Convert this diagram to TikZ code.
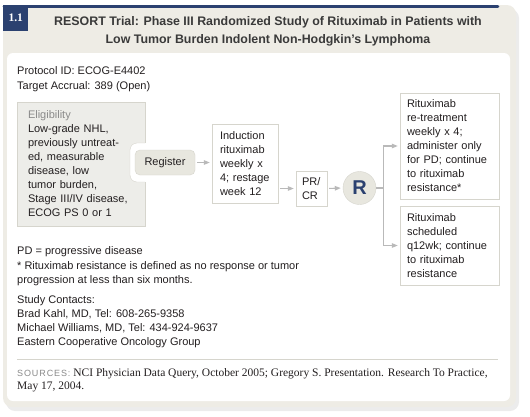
\documentclass[tikz,border=0pt]{standalone}
\usepackage{fontspec}
\setmainfont{Liberation Sans}
\newfontfamily\srcserif{Liberation Serif}
\newfontfamily\srcsans[LetterSpace=10]{Liberation Sans}
\usepackage{tikz}
\usetikzlibrary{arrows.meta,positioning,calc,shadows}
\definecolor{navy}{HTML}{2B4170}
\definecolor{panel}{HTML}{EEECE5}
\definecolor{boxline}{HTML}{D6D5CD}
\definecolor{eligfill}{HTML}{EDEDE9}
\definecolor{regfill}{HTML}{E8E7DF}
\definecolor{arrowgray}{HTML}{B9B9B9}
\definecolor{ink}{HTML}{231F20}
\definecolor{titleink}{HTML}{3A3A3A}
\definecolor{labelgray}{HTML}{8A8A8A}

\begin{document}
\begin{tikzpicture}[x=1pt, y=-1pt,
  txt/.style={font=\fontsize{11}{14}\selectfont, text=ink, align=left, inner sep=0pt},
  box/.style={draw=boxline, fill=white, txt, inner xsep=7pt, inner ysep=0pt},
  arrow/.style={-{Triangle[length=6pt, width=4.5pt]}, draw=arrowgray, line width=1.1pt, shorten >=2pt, shorten <=2pt}
]
\useasboundingbox (0,0) rectangle (530,416);

% panel
\path[fill=panel, rounded corners=9, drop shadow={opacity=0.15, shadow xshift=3pt, shadow yshift=-4pt}] (3,5) rectangle (516,407);
\draw[navy, line width=2.6pt, line cap=round] (4,6.3) -- (498,6.3);
\fill[white, rounded corners=6] (7,53) rectangle (510,401);

\node[fill=navy, text=white, font=\srcserif\bfseries\fontsize{11.5}{12}\selectfont, minimum width=25, minimum height=26, anchor=north west, inner sep=0pt] (num) at (3,5) {1.1};
\node[font=\bfseries\fontsize{12.4}{18}\selectfont, text=titleink, align=center] (title) at (268,31) {RESORT Trial: Phase III Randomized Study of Rituximab in Patients with\\Low Tumor Burden Indolent Non-Hodgkin's Lymphoma};

\node[txt, font=\fontsize{11}{15}\selectfont, anchor=west] (protocol) at (17,79.5) {Protocol ID: ECOG-E4402\\Target Accrual: 389 (Open)};

% flow
\node[box, fill=eligfill, inner xsep=11pt, text width=106, minimum height=124] (elig) at (81,164) {\textcolor{labelgray}{Eligibility}\\Low-grade NHL,\\previously untreat-\\ed, measurable\\disease, low\\tumor burden,\\Stage III/IV disease,\\ECOG PS 0 or 1};
\fill[white, rounded corners=7] (130,143) rectangle (152,182);
\draw[boxline, rounded corners=7] (elig.east |- 0,143) -- (130,143) -- (130,182) -- (elig.east |- 0,182);

\node[box, fill=regfill, rounded corners=5, minimum width=60, minimum height=25, align=center] (register) at (165,162.5) {Register};
\node[box, inner xsep=8pt, text width=50, minimum height=79] (induction) at (245,163.5) {Induction\\rituximab\\weekly x\\4; restage\\week 12};
\node[box, inner xsep=6pt, text width=19, minimum height=35] (prcr) at (311.5,188.5) {PR/\\CR};
\node[circle, draw=boxline, fill=regfill, minimum size=33, inner sep=0pt, font=\bfseries\fontsize{20}{20}\selectfont, text=navy] (rand) at (359.5,188) {R};
\node[box, text width=85, minimum height=106] (retreat) at (449.5,146) {Rituximab\\re-treatment\\weekly x 4;\\administer only\\for PD; continue\\to rituximab\\resistance*};
\node[box, text width=85, minimum height=79] (sched) at (449.5,245.5) {Rituximab\\scheduled\\q12wk; continue\\to rituximab\\resistance};

\draw[arrow] (register.east) -- (register.east -| induction.west);
\draw[arrow] (induction.east |- prcr.west) -- (prcr.west);
\draw[arrow] (prcr.east) -- (rand.west);
\draw[draw=arrowgray, line width=1.1pt] (rand.east) -- ++(7,0) coordinate (split);
\draw[arrow, shorten <=0pt] (split) |- (retreat.west);
\draw[arrow, shorten <=0pt] (split) |- (sched.west);

% notes
\node[txt, font=\fontsize{11}{14.5}\selectfont, anchor=west] (notes) at (17,266.5) {PD = progressive disease\\* Rituximab resistance is defined as no response or tumor\\progression at less than six months.};
\node[txt, anchor=west] (contacts) at (17,322) {Study Contacts:\\Brad Kahl, MD, Tel: 608-265-9358\\Michael Williams, MD, Tel: 434-924-9637\\Eastern Cooperative Oncology Group};

\draw[boxline] (17,359) -- (498,359);
\node[txt, font=\srcserif\fontsize{11.5}{12.5}\selectfont, anchor=west] (sources) at (17,380) {{\srcsans\fontsize{9}{12}\selectfont\color{labelgray}SOURCES:} NCI Physician Data Query, October 2005; Gregory S. Presentation. Research To Practice,\\May 17, 2004.};

\end{tikzpicture}
\end{document}
